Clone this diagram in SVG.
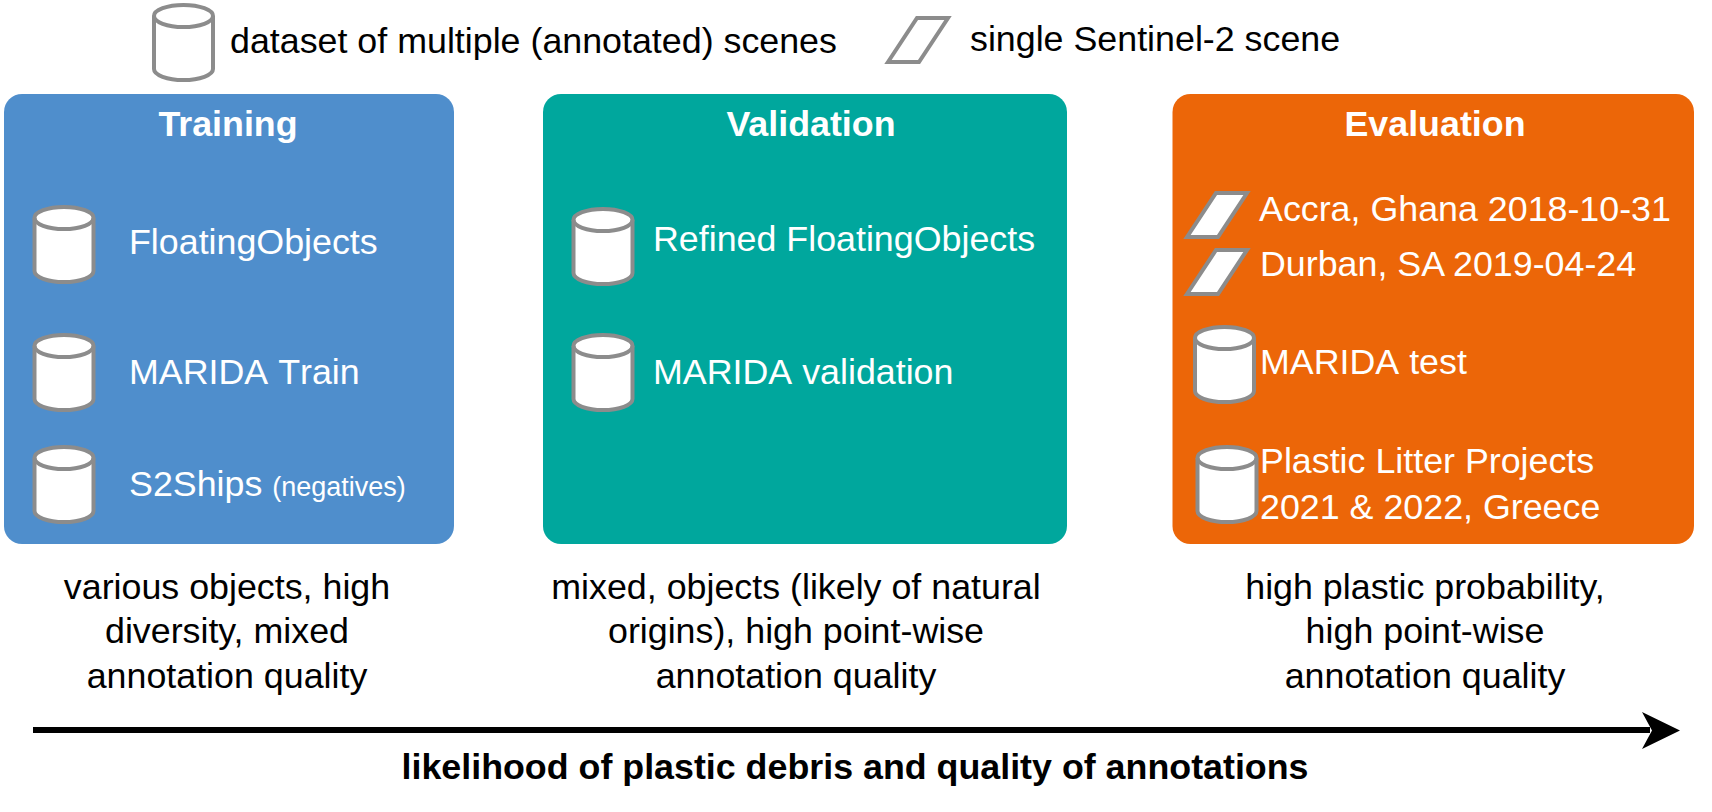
<svg xmlns="http://www.w3.org/2000/svg" width="1712" height="812" viewBox="0 0 1712 812">
<style>
text{font-family:"Liberation Sans",Arial,sans-serif;font-size:35.800px;fill:#000}
.w{fill:#fff}
.t{font-weight:700;fill:#fff;text-anchor:middle}
.m{text-anchor:middle}
.k{font-kerning:none}
.s{fill:#fff;stroke:#8c8c8c;stroke-width:4}
</style>
<defs>
<g id="cyl"><path class="s" d="M0 11A29.500 11 0 0 1 59 11V64A29.500 11 0 0 1 0 64Z"/><path fill="none" stroke="#8c8c8c" stroke-width="4" d="M0 11A29.500 11 0 0 0 59 11"/></g>
<polygon id="par" class="s" points="0,45 29,1 60,1 31,45"/>
</defs>
<rect width="1712" height="812" fill="#fff"/>
<g id="legend-dataset"><use href="#cyl" x="154" y="5"/><text x="230" y="53">dataset of multiple (annotated) scenes</text></g>
<g id="legend-scene"><use href="#par" x="888" y="17"/><text x="970" y="51">single Sentinel-2 scene</text></g>
<g id="training"><rect x="4" y="94" width="450" height="450" rx="18" fill="#4f8ecc"/><text class="t" x="228" y="136">Training</text>
<use href="#cyl" x="34.500" y="207"/><text class="w" x="129" y="254">FloatingObjects</text>
<use href="#cyl" x="34.500" y="335"/><text class="w k" x="129" y="384">MARIDA Train</text>
<use href="#cyl" x="34.500" y="447"/><text class="w" x="129" y="496">S2Ships <tspan font-size="27">(negatives)</tspan></text></g>
<g id="validation"><rect x="543" y="94" width="524" height="450" rx="18" fill="#00a79d"/><text class="t" x="811" y="136">Validation</text>
<use href="#cyl" x="573.500" y="209"/><text class="w" x="653" y="251">Refined FloatingObjects</text>
<use href="#cyl" x="573.500" y="335"/><text class="w k" x="653" y="384">MARIDA validation</text></g>
<g id="evaluation"><rect x="1172.500" y="94" width="521.500" height="450" rx="18" fill="#ec6608"/><text class="t" x="1435" y="136">Evaluation</text>
<use href="#par" x="1187" y="192"/><text class="w" x="1259" y="221">Accra, Ghana 2018-10-31</text>
<use href="#par" x="1187" y="249"/><text class="w" x="1260" y="276">Durban, SA 2019-04-24</text>
<use href="#cyl" x="1195" y="327"/><text class="w k" x="1260" y="374">MARIDA test</text>
<use href="#cyl" x="1197.500" y="447"/><text class="w" x="1260" y="473">Plastic Litter Projects</text><text class="w" x="1260" y="519">2021 &amp; 2022, Greece</text></g>
<g id="notes">
<text class="m" x="227" y="599">various objects, high</text><text class="m" x="227" y="643">diversity, mixed</text><text class="m" x="227" y="688">annotation quality</text>
<text class="m" x="796" y="599">mixed, objects (likely of natural</text><text class="m" x="796" y="643">origins), high point-wise</text><text class="m" x="796" y="688">annotation quality</text>
<text class="m" x="1425" y="599">high plastic probability,</text><text class="m" x="1425" y="643">high point-wise</text><text class="m" x="1425" y="688">annotation quality</text></g>
<g id="connectors"><path d="M33 730H1650" stroke="#000" stroke-width="6" fill="none"/><path d="M1642 712L1680 730.500L1642 749L1652 730.500Z" fill="#000"/></g>
<text id="axis" class="m t" style="fill:#000" x="855" y="779">likelihood of plastic debris and quality of annotations</text>
</svg>
